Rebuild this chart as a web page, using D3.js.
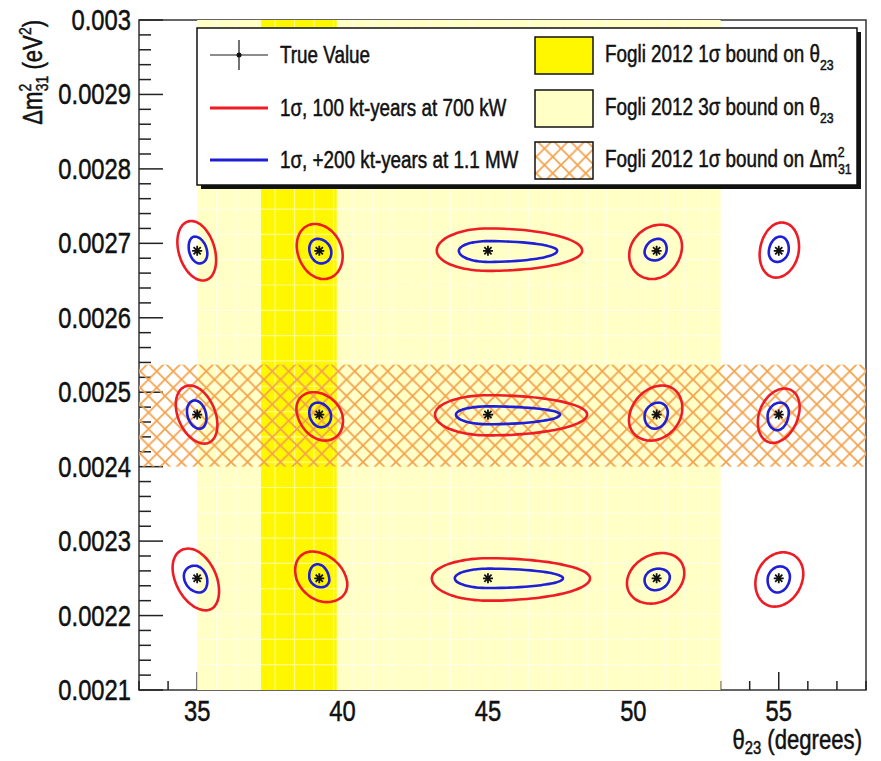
<!DOCTYPE html>
<html>
<head>
<meta charset="utf-8">
<script src="https://cdn.jsdelivr.net/npm/d3@7"></script>
<style>
  body { margin: 0; background: #fff; }
  svg { display: block; font-family: 'Liberation Sans', Arial, sans-serif; }
  text { fill: #111; stroke: #111; stroke-width: 0.5px; }
</style>
</head>
<body>
<div id="chart"></div>
<script>
// True values (columns = theta23, rows = dm2_31)
const thetaTrue = [35, 39.2, 45, 50.8, 55];
const dm2True = [0.00269, 0.00247, 0.00225];

// Fogli 2012 bounds
const theta3Sigma = [35, 53];
const theta1Sigma = [37.2, 39.8];
const dm21Sigma = [0.00240, 0.002537];

// Axis ticks
const xTicks = [35, 40, 45, 50, 55];
const yTicks = [0.0021, 0.0022, 0.0023, 0.0024, 0.0025, 0.0026, 0.0027, 0.0028, 0.0029, 0.003];

// Contour extents, one row per dm2 value, one entry per theta
// left / right half widths in degrees, up / down in eV^2, shear = top lean in degrees
const redLeft  = [[0.65, 0.76, 1.76, 0.93, 0.65], [0.69, 0.76, 1.82, 0.93, 0.69], [0.79, 0.79, 1.93, 1.00, 0.79]];
const redRight = [[0.62, 0.79, 3.24, 0.86, 0.69], [0.65, 0.79, 3.41, 0.86, 0.69], [0.69, 0.93, 3.51, 0.93, 0.83]];
const redUp    = [[0.40e-4, 0.36e-4, 0.30e-4, 0.35e-4, 0.38e-4], [0.39e-4, 0.30e-4, 0.26e-4, 0.39e-4, 0.35e-4], [0.40e-4, 0.36e-4, 0.27e-4, 0.34e-4, 0.35e-4]];
const redDown  = [[0.40e-4, 0.38e-4, 0.27e-4, 0.38e-4, 0.36e-4], [0.39e-4, 0.35e-4, 0.28e-4, 0.35e-4, 0.38e-4], [0.43e-4, 0.32e-4, 0.30e-4, 0.34e-4, 0.38e-4]];
const redShear = [[-0.20, -0.15, 0, 0.15, 0.10], [-0.25, -0.20, 0, 0.20, 0.20], [-0.30, -0.25, 0, 0.20, 0.15]];

const blueLeft  = [[0.28, 0.34, 1.00, 0.41, 0.34], [0.34, 0.34, 1.10, 0.41, 0.38], [0.45, 0.34, 1.14, 0.41, 0.38]];
const blueRight = [[0.34, 0.41, 2.38, 0.34, 0.34], [0.31, 0.40, 2.48, 0.38, 0.34], [0.34, 0.34, 2.58, 0.45, 0.38]];
const blueUp    = [[0.19e-4, 0.16e-4, 0.13e-4, 0.16e-4, 0.19e-4], [0.19e-4, 0.16e-4, 0.11e-4, 0.16e-4, 0.16e-4], [0.17e-4, 0.19e-4, 0.13e-4, 0.13e-4, 0.16e-4]];
const blueDown  = [[0.17e-4, 0.17e-4, 0.15e-4, 0.13e-4, 0.15e-4], [0.19e-4, 0.17e-4, 0.13e-4, 0.19e-4, 0.21e-4], [0.19e-4, 0.12e-4, 0.13e-4, 0.16e-4, 0.19e-4]];
const blueShear = [[-0.08, -0.06, 0, 0.06, 0.05], [-0.08, -0.06, 0, 0.06, 0.05], [-0.08, -0.06, 0, 0.06, 0.05]];

const width = 881;
const height = 761;
const narrow = 0.82; // ROOT uses a narrow helvetica, squeeze Liberation Sans to match

const x = d3.scaleLinear().domain([33, 58]).range([139, 866]);
const y = d3.scaleLinear().domain([0.0021, 0.003]).range([690, 20]);

const svg = d3.select('#chart').append('svg')
  .attr('width', width)
  .attr('height', height);

// squeezed text helper
function label(parent, px, py, size, anchor, extra) {
  return parent.append('text')
    .attr('transform', `translate(${px},${py}) ${extra || ''} scale(${narrow},1)`)
    .attr('text-anchor', anchor || 'start')
    .attr('font-size', size);
}

const defs = svg.append('defs');
const hatch = defs.append('pattern')
  .attr('id', 'hatch')
  .attr('patternUnits', 'userSpaceOnUse')
  .attr('width', 16.5)
  .attr('height', 16.5);
hatch.append('path')
  .attr('d', 'M0,0L16.5,16.5M0,16.5L16.5,0M-2,2L2,-2M14.5,18.5L18.5,14.5M-2,14.5L2,18.5M14.5,-2L18.5,2')
  .attr('stroke', '#f3a24c')
  .attr('stroke-width', 1.8)
  .attr('fill', 'none');

// Frame and axes
const [x0, x1] = x.range();
const [y0, y1] = y.range();
svg.append('rect')
  .attr('x', x0).attr('y', y1)
  .attr('width', x1 - x0).attr('height', y0 - y1)
  .attr('fill', 'none')
  .attr('stroke', '#333')
  .attr('stroke-width', 1.5);

// y ticks (pointing inwards)
const yMinor = d3.range(0, 46).map(i => 0.0021 + i * 0.00002);
svg.append('g').selectAll('line').data(yMinor).join('line')
  .attr('x1', x0).attr('x2', (d, i) => x0 + (i % 5 === 0 ? 24 : 12))
  .attr('y1', d => y(d)).attr('y2', d => y(d))
  .attr('stroke', '#222').attr('stroke-width', 1.5);

// x ticks
const xMinor = d3.range(33, 59);
svg.append('g').selectAll('line').data(xMinor).join('line')
  .attr('x1', d => x(d)).attr('x2', d => x(d))
  .attr('y1', y0).attr('y2', d => y0 - (d % 5 === 0 ? 18 : 9))
  .attr('stroke', '#222').attr('stroke-width', 1.5);

// Fogli bands
svg.append('rect')
  .attr('x', x(theta3Sigma[0])).attr('y', y1)
  .attr('width', x(theta3Sigma[1]) - x(theta3Sigma[0]))
  .attr('height', y0 - y1)
  .attr('fill', '#ffffc6');
svg.append('rect')
  .attr('x', x(theta1Sigma[0])).attr('y', y1)
  .attr('width', x(theta1Sigma[1]) - x(theta1Sigma[0]))
  .attr('height', y0 - y1)
  .attr('fill', '#fff700');

// faint white grid inside the bands
const grid = svg.append('g').attr('stroke', '#fff').attr('stroke-width', 1.2).attr('opacity', 0.55);
grid.selectAll('.gv').data(d3.range(theta3Sigma[0] + 0.67, theta3Sigma[1], 0.67)).join('line')
  .attr('class', 'gv')
  .attr('x1', d => x(d)).attr('x2', d => x(d))
  .attr('y1', y1).attr('y2', y0);
grid.selectAll('.gh').data(d3.range(0.0021 + 0.000034, 0.003, 0.000034)).join('line')
  .attr('class', 'gh')
  .attr('x1', x(theta3Sigma[0])).attr('x2', x(theta3Sigma[1]))
  .attr('y1', d => y(d)).attr('y2', d => y(d));

svg.append('rect')
  .attr('x', x0).attr('y', y(dm21Sigma[1]))
  .attr('width', x1 - x0)
  .attr('height', y(dm21Sigma[0]) - y(dm21Sigma[1]))
  .attr('fill', 'url(#hatch)');

// Contours
function contourPath(cx, cy, L, R, U, D, S) {
  const pts = d3.range(72).map(i => {
    const t = i / 72 * 2 * Math.PI;
    const c = Math.cos(t), s = Math.sin(t);
    const dx = (c >= 0 ? R : L) * c + S * s;
    const dy = (s >= 0 ? U : D) * s;
    return [x(cx + dx), y(cy + dy)];
  });
  return d3.line().curve(d3.curveCardinalClosed)(pts);
}

const cells = [];
dm2True.forEach((dm, r) => thetaTrue.forEach((th, c) => cells.push({ r, c, th, dm })));

svg.append('g').selectAll('path').data(cells).join('path')
  .attr('d', d => contourPath(d.th, d.dm, redLeft[d.r][d.c], redRight[d.r][d.c], redUp[d.r][d.c], redDown[d.r][d.c], redShear[d.r][d.c]))
  .attr('fill', 'none').attr('stroke', '#ee1c24').attr('stroke-width', 2.6);

svg.append('g').selectAll('path').data(cells).join('path')
  .attr('d', d => contourPath(d.th, d.dm, blueLeft[d.r][d.c], blueRight[d.r][d.c], blueUp[d.r][d.c], blueDown[d.r][d.c], blueShear[d.r][d.c]))
  .attr('fill', 'none').attr('stroke', '#1f1fd6').attr('stroke-width', 2.6);

// True value markers (asterisk)
const star = 'M-5,0L5,0M0,-5L0,5M-3.6,-3.6L3.6,3.6M-3.6,3.6L3.6,-3.6';
svg.append('g').selectAll('path').data(cells).join('path')
  .attr('transform', d => `translate(${x(d.th)},${y(d.dm)})`)
  .attr('d', star)
  .attr('stroke', '#111').attr('stroke-width', 1.8).attr('fill', 'none');

// Tick labels
yTicks.forEach(d => {
  label(svg, 131, y(d) + 10, 29, 'end').text(String(+d.toFixed(4)));
});
xTicks.forEach(d => {
  label(svg, x(d), 721, 29, 'middle').text(d);
});

// Axis titles
const xt = label(svg, 862, 749, 27, 'end');
xt.append('tspan').text('θ');
xt.append('tspan').attr('font-size', 18).attr('dy', 5).text('23');
xt.append('tspan').attr('dy', -5).text(' (degrees)');

const yt = label(svg, 42, 20, 27, 'end', 'rotate(-90)');
yt.append('tspan').text('Δm');
yt.append('tspan').attr('font-size', 17).attr('dy', -11).text('2');
yt.append('tspan').attr('font-size', 17).attr('dx', -9).attr('dy', 17).text('31');
yt.append('tspan').attr('dy', -6).text(' (eV');
yt.append('tspan').attr('font-size', 17).attr('dy', -11).text('2');
yt.append('tspan').attr('dy', 11).text(')');

// Legend
const lg = svg.append('g');
lg.append('rect').attr('x', 201).attr('y', 32).attr('width', 660).attr('height', 157).attr('fill', '#111');
lg.append('rect').attr('x', 197).attr('y', 28).attr('width', 660).attr('height', 157)
  .attr('fill', '#fff').attr('stroke', '#111').attr('stroke-width', 1.5);

const rowsY = [55, 108, 160];
const leftLabels = ['True Value', '1σ, 100 kt-years at 700 kW', '1σ, +200 kt-years at 1.1 MW'];

// true value entry
lg.append('line').attr('x1', 210).attr('x2', 268).attr('y1', rowsY[0]).attr('y2', rowsY[0])
  .attr('stroke', '#666').attr('stroke-width', 1.5);
lg.append('line').attr('x1', 239).attr('x2', 239).attr('y1', rowsY[0] - 15).attr('y2', rowsY[0] + 15)
  .attr('stroke', '#444').attr('stroke-width', 1.5);
lg.append('circle').attr('cx', 239).attr('cy', rowsY[0]).attr('r', 2.5).attr('fill', '#111');
lg.append('line').attr('x1', 210).attr('x2', 268).attr('y1', rowsY[1]).attr('y2', rowsY[1])
  .attr('stroke', '#ee1c24').attr('stroke-width', 3);
lg.append('line').attr('x1', 210).attr('x2', 268).attr('y1', rowsY[2]).attr('y2', rowsY[2])
  .attr('stroke', '#1f1fd6').attr('stroke-width', 3);

leftLabels.forEach((d, i) => {
  label(lg, 280, rowsY[i] + 8, 23, 'start').text(d);
});

const boxFills = ['#fff700', '#ffffc6', 'url(#hatch)'];
lg.selectAll('.lb').data(boxFills).join('rect')
  .attr('class', 'lb')
  .attr('x', 535).attr('y', (d, i) => rowsY[i] - 18)
  .attr('width', 58).attr('height', 37)
  .attr('fill', d => d)
  .attr('stroke', '#111').attr('stroke-width', 1.5);

[0, 1].forEach(i => {
  const t = label(lg, 605, rowsY[i] + 7, 23, 'start');
  t.append('tspan').text(i === 0 ? 'Fogli 2012 1σ bound on θ' : 'Fogli 2012 3σ bound on θ');
  t.append('tspan').attr('font-size', 15).attr('dy', 8).text('23');
});
const t3 = label(lg, 605, rowsY[2] + 7, 23, 'start');
t3.append('tspan').text('Fogli 2012 1σ bound on Δm');
t3.append('tspan').attr('font-size', 15).attr('dy', -10).text('2');
t3.append('tspan').attr('font-size', 15).attr('dx', -8).attr('dy', 17).text('31');
</script>
</body>
</html>
